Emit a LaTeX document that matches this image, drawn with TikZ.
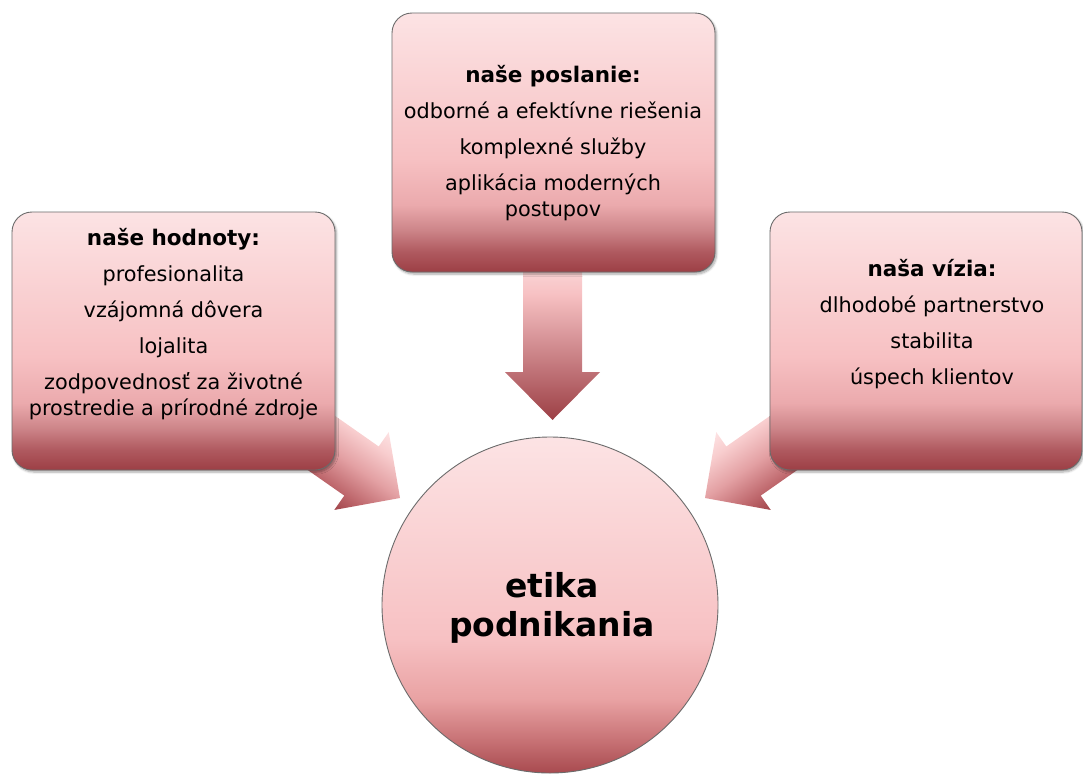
\documentclass[tikz,border=0pt]{standalone}
\usepackage{fontspec}
\setmainfont{DejaVu Sans}
\usetikzlibrary{shadows.blur}
\definecolor{cLight}{HTML}{FCE3E4}
\definecolor{cPink}{HTML}{F7C1C3}
\definecolor{cPink2}{HTML}{EBAAAD}
\definecolor{cMid}{HTML}{CC8488}
\definecolor{cMid2}{HTML}{B05A60}
\definecolor{aMid}{HTML}{CD868A}
\definecolor{cDark}{HTML}{9C3F45}
\definecolor{hDark}{HTML}{A84A4F}
\definecolor{hMid}{HTML}{C87376}
\definecolor{hPink}{HTML}{E9A2A3}
\definecolor{dDark}{HTML}{A0444A}
\definecolor{dMid}{HTML}{BE676C}
\definecolor{dPink}{HTML}{E3A0A3}
\definecolor{dLight}{HTML}{F8CDCE}
\definecolor{dTop}{HTML}{FDE2E3}
\definecolor{cEdge}{HTML}{6B6B6B}
\pgfdeclareverticalshading{boxshade}{100bp}{color(0bp)=(cDark); color(25bp)=(cDark); color(29bp)=(cMid2); color(33bp)=(cMid); color(38bp)=(cPink2); color(47bp)=(cPink); color(75bp)=(cLight); color(100bp)=(cLight)}
\pgfdeclareverticalshading{hubshade}{100bp}{color(0bp)=(hDark); color(25bp)=(hDark); color(30bp)=(hMid); color(36bp)=(hPink); color(45bp)=(cPink); color(75bp)=(cLight); color(100bp)=(cLight)}
\pgfdeclareverticalshading{arrowshade}{100bp}{color(0bp)=(cDark); color(25bp)=(cDark); color(45bp)=(aMid); color(62bp)=(cPink); color(75bp)=(cLight); color(100bp)=(cLight)}
\pgfdeclareverticalshading{diagshade}{100bp}{color(0bp)=(dDark); color(25bp)=(dDark); color(35bp)=(dMid); color(50bp)=(dPink); color(65bp)=(dLight); color(75bp)=(dTop); color(100bp)=(dTop)}
\tikzset{
  box/.style={rectangle, rounded corners=20pt, draw=cEdge, line width=0.9pt, shade, shading=boxshade,
    blur shadow={shadow xshift=1.5pt, shadow yshift=-2pt, shadow blur steps=6, shadow opacity=35},
    inner sep=0pt},
  hub/.style={circle, draw=cEdge, line width=0.9pt, shade, shading=hubshade, inner sep=0pt, minimum size=336pt},
  bodytext/.style={align=center, inner sep=0pt, anchor=north, font=\fontsize{20.8}{26}\selectfont},
  headfont/.style={},
  hubtext/.style={align=center, inner sep=0pt, anchor=north, font=\bfseries\fontsize{33}{39}\selectfont},
  downarrow/.style={shade, shading=arrowshade},
  diagarrow/.style={shade, shading=diagshade}
}
\newcommand{\headline}[1]{{\bfseries\fontsize{21.5}{26}\selectfont #1}}
\begin{document}
\begin{tikzpicture}[x=1pt,y=-1pt]
\useasboundingbox (0,0) rectangle (1083,774);
\clip (0,0) rectangle (1083,774);
% block arrows
\begin{scope}[transform canvas={shift={(400,498)}, rotate=-35}]
\shade[diagarrow] (-200,-30) -- (-47,-30) -- (-47,-47.5) -- (0,0) -- (-47,47.5) -- (-47,30) -- (-200,30) -- cycle;
\end{scope}
\begin{scope}[transform canvas={shift={(705,498)}, rotate=35}]
\shade[diagarrow] (200,-30) -- (47,-30) -- (47,-47.5) -- (0,0) -- (47,47.5) -- (47,30) -- (200,30) -- cycle;
\end{scope}
\shade[downarrow] (523,250) -- (523,372) -- (505,372) -- (552.5,420) -- (600,372) -- (582,372) -- (582,250) -- cycle;
% boxes
\node[box, minimum width=323pt, minimum height=258pt] (hodnoty) at (173.5,341) {};
\node[box, minimum width=323pt, minimum height=259pt] (poslanie) at (553.5,142.5) {};
\node[box, minimum width=312pt, minimum height=258pt] (vizia) at (926,341) {};
\node[hub] (etika) at (550,605) {};
% texts
\node[bodytext] (thod) at (173.5,228) {\headline{naše hodnoty:}\\[10pt]profesionalita\\[10pt]vzájomná dôvera\\[10pt]lojalita\\[10pt]zodpovednosť za životné\\prostredie a prírodné zdroje};
\node[bodytext] (tpos) at (553,65.5) {\headline{naše poslanie:}\\[10pt]odborné a efektívne riešenia\\[10pt]komplexné služby\\[10pt]aplikácia moderných\\postupov};
\node[bodytext] (tviz) at (932,259.5) {\headline{naša vízia:}\\[10pt]dlhodobé partnerstvo\\[10pt]stabilita\\[10pt]úspech klientov};
\node[hubtext] (tetika) at (552,572) {etika\\podnikania};
\end{tikzpicture}
\end{document}
